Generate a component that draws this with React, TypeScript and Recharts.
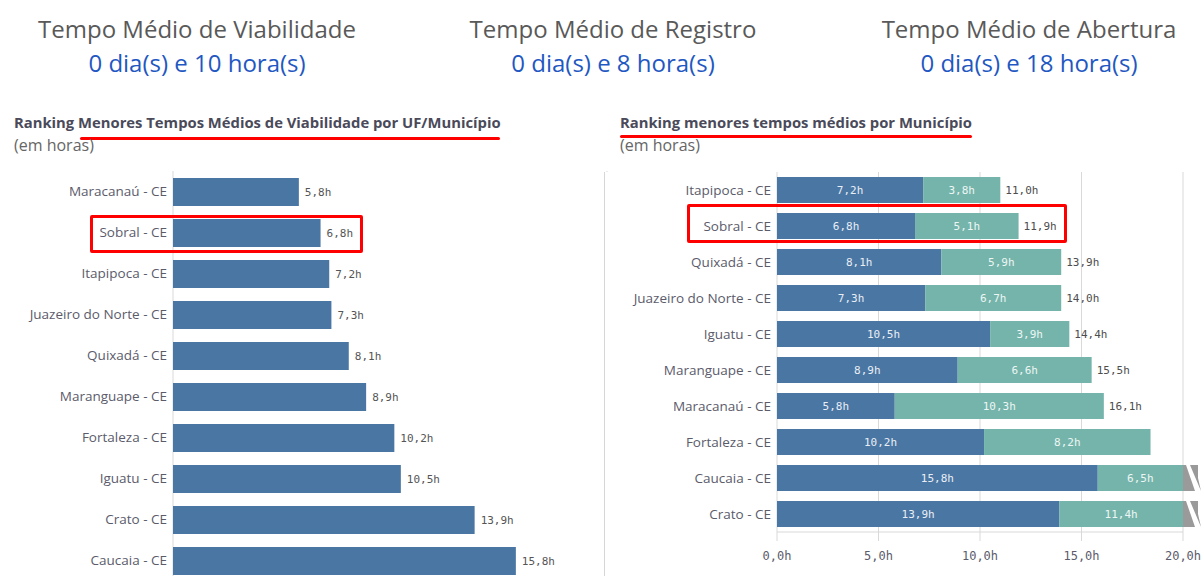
import React from 'react';
import { BarChart, Bar, XAxis, YAxis, CartesianGrid, LabelList } from 'recharts';

// Painel esquerdo: tempo médio de viabilidade
const viabCities = [
  'Maracanaú - CE',
  'Sobral - CE',
  'Itapipoca - CE',
  'Juazeiro do Norte - CE',
  'Quixadá - CE',
  'Maranguape - CE',
  'Fortaleza - CE',
  'Iguatu - CE',
  'Crato - CE',
  'Caucaia - CE',
];
const viabHours = [5.8, 6.8, 7.2, 7.3, 8.1, 8.9, 10.2, 10.5, 13.9, 15.8];

// Painel direito: registro + abertura
const munCities = [
  'Itapipoca - CE',
  'Sobral - CE',
  'Quixadá - CE',
  'Juazeiro do Norte - CE',
  'Iguatu - CE',
  'Maranguape - CE',
  'Maracanaú - CE',
  'Fortaleza - CE',
  'Caucaia - CE',
  'Crato - CE',
];
const registroHours = [7.2, 6.8, 8.1, 7.3, 10.5, 8.9, 5.8, 10.2, 15.8, 13.9];
const aberturaHours = [3.8, 5.1, 5.9, 6.7, 3.9, 6.6, 10.3, 8.2, 6.5, 11.4];
const totalHours = [11.0, 11.9, 13.9, 14.0, 14.4, 15.5, 16.1, null, null, null];

const xTicks = [0, 5, 10, 15, 20];
const X_MAX = 20;

const kpis = [
  { title: 'Tempo Médio de Viabilidade', value: '0 dia(s) e 10 hora(s)' },
  { title: 'Tempo Médio de Registro', value: '0 dia(s) e 8 hora(s)' },
  { title: 'Tempo Médio de Abertura', value: '0 dia(s) e 18 hora(s)' },
];

const BLUE = '#4a76a3';
const TEAL = '#74b4ab';
const GRID = '#d9d9d9';
const LABEL = '#5b5b6b';
const MONO = '"DejaVu Sans Mono", monospace';

const fmt = (v: number) => v.toFixed(1).replace('.', ',') + 'h';

const viabData = viabCities.map((name, i) => ({ name, hours: viabHours[i] }));

const munData = munCities.map((name, i) => {
  const reg = registroHours[i];
  const abe = aberturaHours[i];
  const overflow = reg + abe > X_MAX;
  return {
    name,
    registro: reg,
    abertura: abe,
    aberturaShown: overflow ? X_MAX - reg : abe,
    total: totalHours[i],
    overflow,
  };
});

function TealShape(props: any) {
  const { x, y, width, height, fill, payload } = props;
  const x0 = x + width;
  return (
    <g>
      <rect x={x} y={y} width={width} height={height} fill={fill} />
      {payload.overflow && (
        <g fill="#9a9a9a">
          <polygon points={`${x0},${y} ${x0 + 3},${y} ${x0 + 12},${y + height} ${x0},${y + height}`} />
          <polygon points={`${x0 + 7},${y} ${x0 + 15},${y} ${x0 + 15},${y + height * 0.5} ${x0 + 18},${y + height}`} />
        </g>
      )}
    </g>
  );
}

function TotalLabel(props: any) {
  const { x, y, width, height, value } = props;
  if (value == null) return null;
  return (
    <text x={x + width + 5} y={y + height / 2} dy="0.35em" fontSize={11} fontFamily={MONO} fill="#4d4d4d">
      {fmt(value)}
    </text>
  );
}

function XTick(props: any) {
  const { x, y, payload } = props;
  return (
    <text x={x} y={y + 8} textAnchor="middle" dy="0.71em" fontSize={12} fontFamily={MONO} fill={LABEL}>
      {fmt(payload.value)}
    </text>
  );
}

const tickStyle = { fontSize: 13.5, fill: LABEL, fontFamily: '"Open Sans", sans-serif' };

export default function App() {
  return (
    <div
      style={{
        position: 'absolute',
        left: 0,
        top: 0,
        width: 1204,
        height: 576,
        overflow: 'hidden',
        background: '#fff',
        fontFamily: '"Open Sans", sans-serif',
      }}
    >
      {kpis.map((k, i) => (
        <div
          key={k.title}
          style={{ position: 'absolute', left: [197, 613, 1029][i] - 200, top: 12, width: 400, textAlign: 'center' }}
        >
          <div style={{ fontSize: 24, color: '#595959', lineHeight: '34px' }}>{k.title}</div>
          <div style={{ fontSize: 24, color: '#1f58c2', lineHeight: '34px' }}>{k.value}</div>
        </div>
      ))}

      <div style={{ position: 'absolute', left: 14, top: 112, fontSize: 14.8, fontWeight: 700, color: '#4a4a5a' }}>
        Ranking Menores Tempos Médios de Viabilidade por UF/Município
      </div>
      <div style={{ position: 'absolute', left: 80, top: 137, width: 420, height: 3, background: '#f00', borderRadius: 2 }} />
      <div style={{ position: 'absolute', left: 14, top: 134, fontSize: 16, color: '#666' }}>(em horas)</div>

      <div style={{ position: 'absolute', left: 620, top: 112, fontSize: 14.8, fontWeight: 700, color: '#4a4a5a' }}>
        Ranking menores tempos médios por Município
      </div>
      <div style={{ position: 'absolute', left: 620, top: 135, width: 352, height: 3, background: '#f00', borderRadius: 2 }} />
      <div style={{ position: 'absolute', left: 620, top: 134, fontSize: 16, color: '#666' }}>(em horas)</div>

      <div style={{ position: 'absolute', left: 0, top: 171 }}>
        <BarChart
          layout="vertical"
          width={610}
          height={440}
          data={viabData}
          margin={{ top: 0, right: 3, left: 0, bottom: 0 }}
        >
          <CartesianGrid horizontal={false} stroke={GRID} />
          <XAxis type="number" domain={[0, X_MAX]} ticks={xTicks} axisLine={false} tickLine={false} tick={false} />
          <YAxis
            type="category"
            dataKey="name"
            width={173}
            axisLine={false}
            tickLine={false}
            tick={tickStyle}
            tickMargin={0}
          />
          <Bar dataKey="hours" fill={BLUE} barSize={28} isAnimationActive={false}>
            <LabelList
              dataKey="hours"
              position="right"
              offset={6}
              formatter={(v: any) => fmt(Number(v))}
              style={{ fontSize: 11, fontFamily: MONO, fill: '#555' }}
            />
          </Bar>
        </BarChart>
      </div>

      <div
        style={{
          position: 'absolute',
          left: 604,
          top: 172,
          width: 600,
          height: 404,
          background: '#fff',
          borderLeft: '1px solid #d6d6d6',
        }}
      />
      <div style={{ position: 'absolute', left: 604, top: 172 }}>
        <BarChart
          layout="vertical"
          width={600}
          height={404}
          data={munData}
          margin={{ top: 0, right: 21, left: 0, bottom: 0 }}
        >
          <CartesianGrid horizontal={false} stroke={GRID} />
          <XAxis
            type="number"
            domain={[0, X_MAX]}
            ticks={xTicks}
            height={44}
            axisLine={{ stroke: GRID }}
            tickLine={{ stroke: GRID }}
            tickSize={9}
            tick={XTick}
          />
          <YAxis
            type="category"
            dataKey="name"
            width={173}
            axisLine={false}
            tickLine={false}
            tick={tickStyle}
            tickMargin={0}
          />
          <Bar dataKey="registro" stackId="a" fill={BLUE} barSize={26} isAnimationActive={false}>
            <LabelList
              dataKey="registro"
              position="center"
              formatter={(v: any) => fmt(Number(v))}
              style={{ fontSize: 11, fontFamily: MONO, fill: '#e9eef5' }}
            />
          </Bar>
          <Bar dataKey="aberturaShown" stackId="a" fill={TEAL} barSize={26} shape={TealShape} isAnimationActive={false}>
            <LabelList
              dataKey="abertura"
              position="center"
              formatter={(v: any) => fmt(Number(v))}
              style={{ fontSize: 11, fontFamily: MONO, fill: '#eef6f4' }}
            />
            <LabelList dataKey="total" content={TotalLabel} />
          </Bar>
        </BarChart>
      </div>

      <div
        style={{
          position: 'absolute',
          left: 90,
          top: 215,
          width: 267,
          height: 32,
          border: '3px solid #f00',
          borderRadius: 2,
        }}
      />
      <div
        style={{
          position: 'absolute',
          left: 687,
          top: 204,
          width: 374,
          height: 33,
          border: '3px solid #f00',
          borderRadius: 2,
        }}
      />
    </div>
  );
}
